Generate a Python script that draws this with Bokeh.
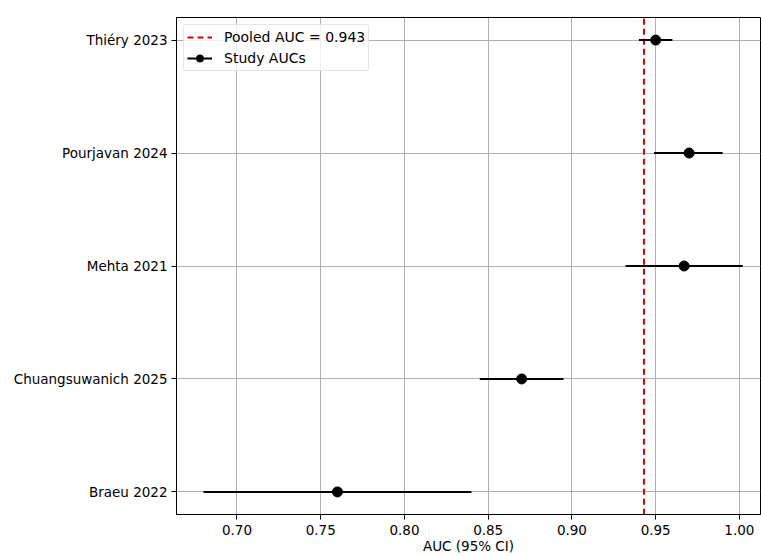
from bokeh.plotting import figure
from bokeh.models import Range1d, FixedTicker, NumeralTickFormatter, ColumnDataSource
from bokeh.embed import file_html
from bokeh.resources import INLINE

studies = ["Braeu 2022", "Chuangsuwanich 2025", "Mehta 2021", "Pourjavan 2024", "Thiéry 2023"]
auc = [0.760, 0.870, 0.967, 0.970, 0.950]
ci_low = [0.680, 0.845, 0.932, 0.949, 0.940]
ci_high = [0.840, 0.895, 1.002, 0.990, 0.960]
pooled_auc = 0.943
x_ticks = [0.70, 0.75, 0.80, 0.85, 0.90, 0.95, 1.00]

ypos = list(range(len(studies)))
src = ColumnDataSource(dict(y=ypos, auc=auc, lo=ci_low, hi=ci_high))

FONT = "DejaVu Sans"

p = figure(width=761, height=556, output_backend="svg", toolbar_location=None,
           x_range=Range1d(0.6639, 1.0126), y_range=Range1d(-0.2, 4.2),
           min_border_left=176, min_border_right=1, min_border_top=17, min_border_bottom=38)
p.background_fill_color = "white"
p.border_fill_color = "white"
p.outline_line_color = "black"
p.outline_line_width = 1

for g in (p.xgrid, p.ygrid):
    g.grid_line_color = "#b0b0b0"
    g.grid_line_width = 1
p.xgrid.ticker = FixedTicker(ticks=x_ticks)
p.ygrid.ticker = FixedTicker(ticks=ypos)

p.xaxis.ticker = FixedTicker(ticks=x_ticks)
p.xaxis.formatter = NumeralTickFormatter(format="0.00")
p.yaxis.ticker = FixedTicker(ticks=ypos)
p.yaxis.major_label_overrides = {i: s for i, s in enumerate(studies)}
for ax in (p.xaxis, p.yaxis):
    ax.axis_line_color = "black"
    ax.major_tick_line_color = "black"
    ax.major_tick_out = 5
    ax.major_tick_in = 0
    ax.minor_tick_line_color = None
    ax.major_label_text_font = FONT
    ax.major_label_text_font_size = "13.5px"
    ax.major_label_text_color = "black"
    ax.axis_label_text_font = FONT
    ax.axis_label_text_font_size = "13.5px"
    ax.axis_label_text_font_style = "normal"
    ax.axis_label_text_color = "black"
p.xaxis.axis_label = "AUC (95% CI)"
p.xaxis.axis_label_standoff = 0
p.xaxis.major_label_standoff = 5
p.yaxis.major_label_standoff = 4

p.line(x=[pooled_auc, pooled_auc], y=[-1, 6], line_color="#d40000", line_width=2,
       line_dash="6 4", legend_label="Pooled AUC = 0.943")

p.segment(x0="lo", x1="hi", y0="y", y1="y", source=src, line_color="black",
          line_width=2, legend_label="Study AUCs")
p.scatter(x="auc", y="y", source=src, size=10, fill_color="black", line_color="black",
          legend_label="Study AUCs")

leg = p.legend[0]
leg.location = "top_left"
leg.margin = 7
leg.padding = 3
leg.spacing = 3
leg.label_text_font = FONT
leg.label_text_font_size = "14px"
leg.label_text_color = "black"
leg.label_height = 18
leg.glyph_height = 18
leg.glyph_width = 25
leg.label_standoff = 12
leg.border_line_color = "#cccccc"
leg.border_line_width = 1
leg.border_radius = 3
leg.background_fill_alpha = 0.8

open("out.html", "w").write(file_html(p, INLINE))
